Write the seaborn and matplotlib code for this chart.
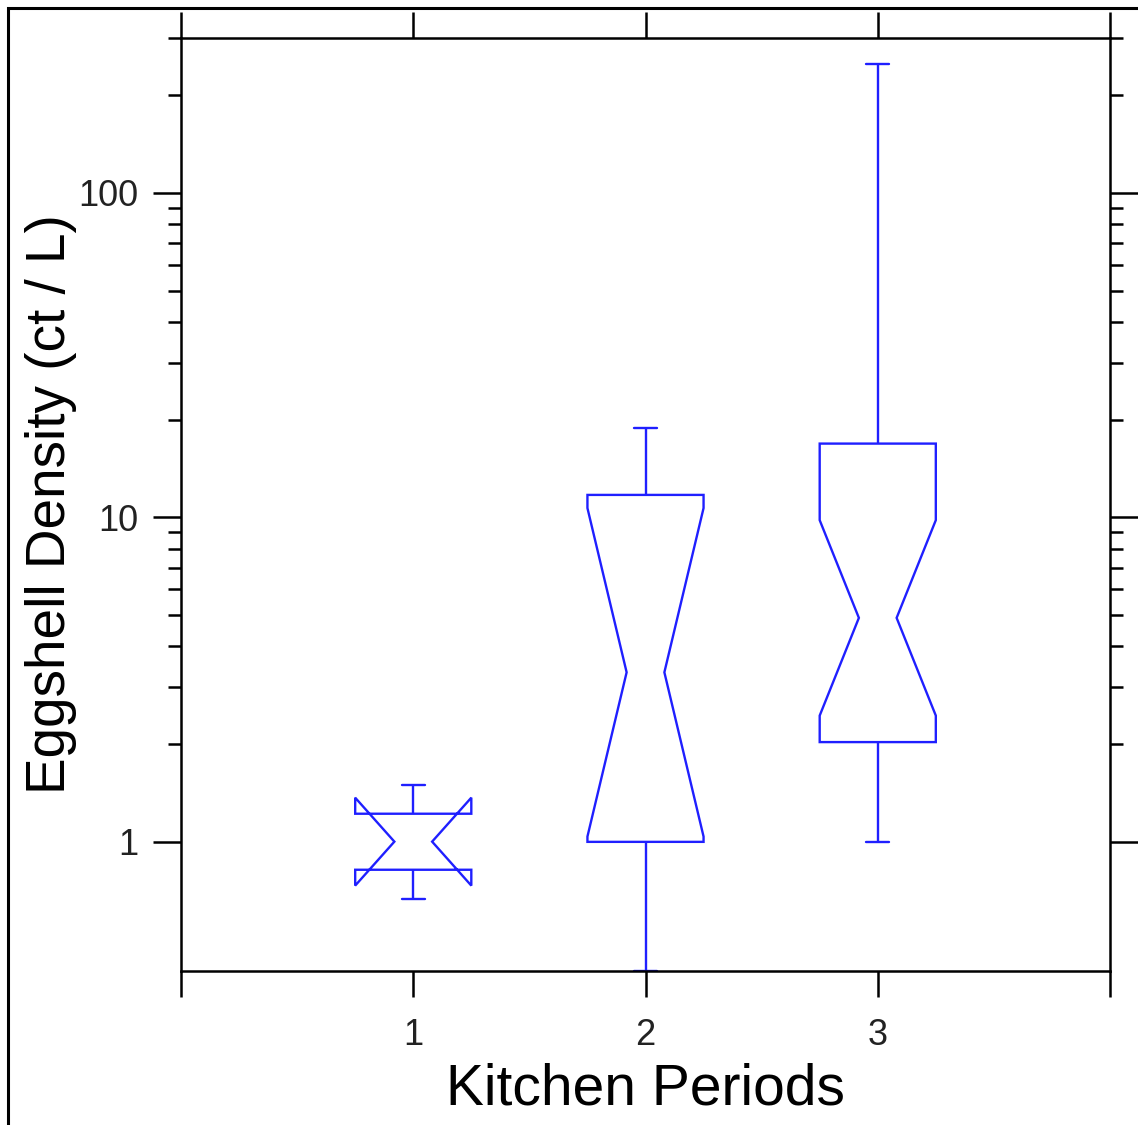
import numpy as np
import pandas as pd
import matplotlib
matplotlib.use("Agg")
import matplotlib.pyplot as plt
import matplotlib.path as mpath
import matplotlib.patches as mpatches
from matplotlib.ticker import FixedLocator, FixedFormatter, NullFormatter, NullLocator
import seaborn as sns

# ---- data ----
periods = ["1", "2", "3"]
period1 = [0.665, 0.88, 1.14, 1.5]
period2 = [0.4, 0.6, 1.0, 1.0, 2.0, 3.33, 6.0, 11.0, 12.5, 15.0, 18.9]
period3 = [1.0, 1.2, 1.5, 1.7, 1.9, 2.0, 2.06, 2.5, 3.0, 3.5, 4.2, 4.9, 5.5,
           7.0, 9.0, 12.0, 16.0, 17.8, 25.0, 40.0, 70.0, 120.0, 250.0]
y_major = [1, 10, 100]
y_major_labels = ["1", "10", "100"]
y_minor = [2, 3, 4, 5, 6, 7, 8, 9, 20, 30, 40, 50, 60, 70, 80, 90, 200, 300]
x_ticks = [-1, 0, 1, 2, 3]
x_tick_labels = ["", "1", "2", "3", ""]
x_label = "Kitchen Periods"
y_label = "Eggshell Density (ct / L)"

groups = [period1, period2, period3]
df = pd.DataFrame({
    "period": [p for p, vals in zip(periods, groups) for _ in vals],
    "density": [v for vals in groups for v in vals],
})

sns.set_theme(style="white")
plt.rcParams["font.family"] = ["Liberation Sans", "DejaVu Sans"]

fig = plt.figure(figsize=(11.38, 11.25), dpi=100)
ax = fig.add_axes([181 / 1138, 154 / 1125, 929 / 1138, 933 / 1125])

blue = "#1f1fff"
sns.boxplot(data=df, x="period", y="density", order=periods, notch=True,
            log_scale=True, width=0.5, color="white", saturation=1,
            linecolor=blue, linewidth=1.7, whis=1.5,
            medianprops={"linewidth": 0}, capwidths=0.1, ax=ax)

# narrower notch waist like the reference
for p in ax.patches:
    path = p.get_path()
    v = path.vertices.copy()
    xmin, xmax = v[:, 0].min(), v[:, 0].max()
    c = (xmin + xmax) / 2
    inner = (v[:, 0] > xmin + 1e-9) & (v[:, 0] < xmax - 1e-9)
    v[inner, 0] = c + (v[inner, 0] - c) * 0.65
    p.set_path(mpath.Path(v, path.codes))

ax.set_ylim(0.4, 300)
ax.set_xlim(-1, 3)
ax.set_xticks(x_ticks)
ax.set_xticklabels(x_tick_labels)
ax.xaxis.set_minor_locator(NullLocator())
ax.yaxis.set_major_locator(FixedLocator(y_major))
ax.yaxis.set_major_formatter(FixedFormatter(y_major_labels))
ax.yaxis.set_minor_locator(FixedLocator(y_minor))
ax.yaxis.set_minor_formatter(NullFormatter())

ax.tick_params(axis="x", which="major", direction="out", top=True, bottom=True,
               length=19, width=1.8, color="black", labelsize=26, pad=15,
               labelcolor="#222222")
ax.tick_params(axis="y", which="major", direction="out", left=True, right=True,
               length=20, width=1.8, color="black", labelsize=26, pad=11,
               labelcolor="#222222")
ax.tick_params(axis="y", which="minor", direction="out", left=True, right=True,
               length=9.5, width=1.8, color="black")

for s in ax.spines.values():
    s.set_visible(True)
    s.set_color("black")
    s.set_linewidth(1.8)

ax.set_xlabel(x_label, fontsize=41, color="black")
ax.set_ylabel(y_label, fontsize=39.5, color="black")
ax.xaxis.set_label_coords(0.5, -0.098)
ax.yaxis.set_label_coords(-0.112, 0.5)

border = mpatches.Rectangle((8 / 1138, -0.05), 1.1, 1.05 - 8 / 1125,
                            transform=fig.transFigure, fill=False,
                            edgecolor="black", linewidth=2.2, clip_on=False)
fig.add_artist(border)

fig.savefig("out.png", dpi=100)
